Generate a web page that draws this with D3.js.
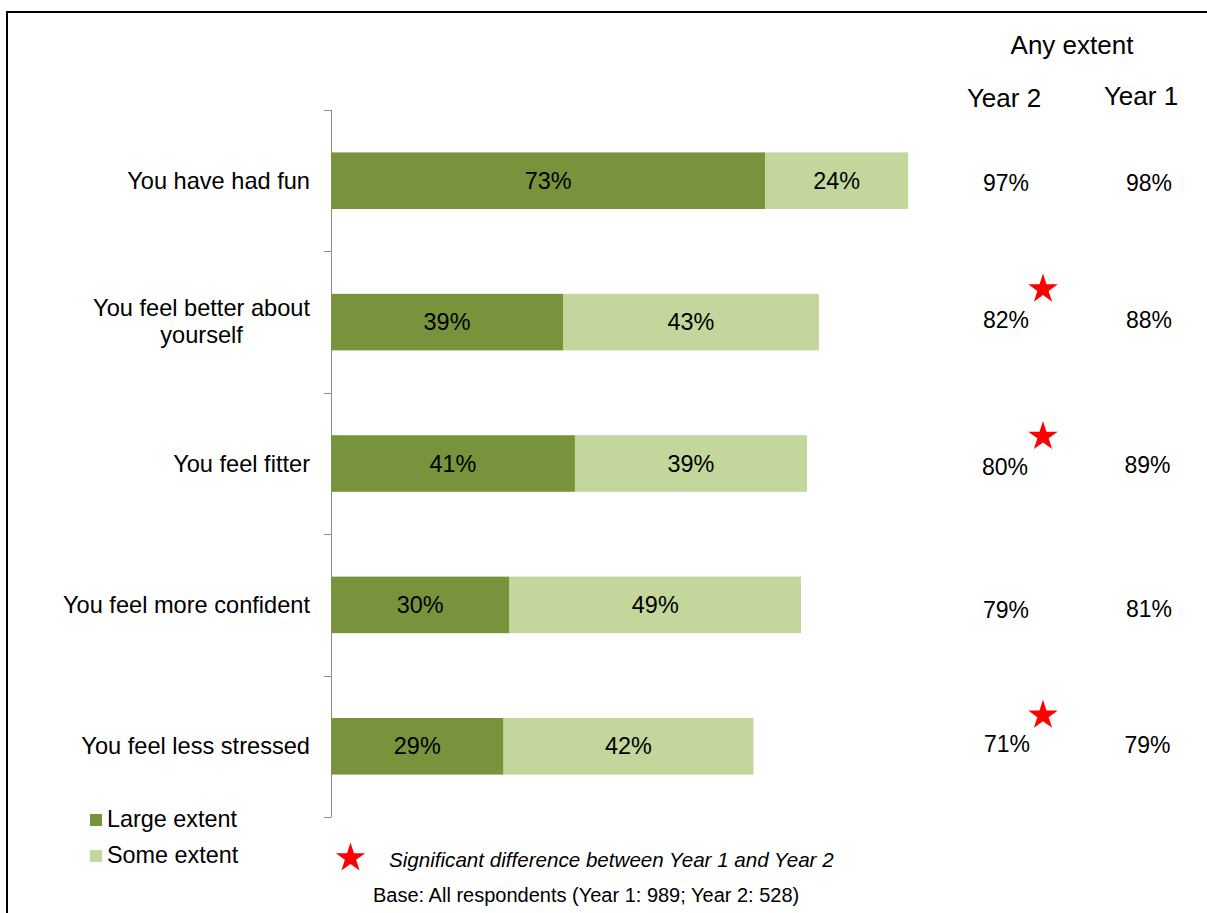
<!DOCTYPE html>
<html><head><meta charset="utf-8">
<script src="https://cdn.jsdelivr.net/npm/d3@7"></script>
<style>body{margin:0;background:#fff}svg{display:block;font-family:Arial,"Liberation Sans",sans-serif}</style>
</head><body>
<script>
const categories = [["You have had fun"],["You feel better about","yourself"],["You feel fitter"],["You feel more confident"],["You feel less stressed"]];
const largeExtent = [73,39,41,30,29];
const someExtent = [24,43,39,49,42];
const year2 = [97,82,80,79,71];
const year1 = [98,88,89,81,79];
const significant = [false,true,true,false,true];
const seriesNames = ["Large extent","Some extent"];
const colors = ["#77933C","#C3D69B"];

const W=1207,H=913;
const svg=d3.select("body").append("svg").attr("width",W).attr("height",H);
svg.append("rect").attr("x",7).attr("y",12).attr("width",W+10).attr("height",H+10).attr("fill","none").attr("stroke","#000").attr("stroke-width",2);

const keys=categories.map((c,i)=>i);
const y=d3.scaleBand().domain(keys).range([110,817]).paddingInner(0.6).paddingOuter(0.3);
const yAx=d3.scaleBand().domain(keys).range([110,817]);
const x=d3.scaleLinear().domain([0,100]).range([331,926]);
const cy=i=>y(i)+y.bandwidth()/2;
const LF=23.6;

// axis line + ticks
const axisG=svg.append("g");
axisG.append("line").attr("x1",331.5).attr("x2",331.5).attr("y1",110).attr("y2",817).attr("stroke","#8c8c8c").attr("stroke-width",1);
const tickYs=keys.map(k=>yAx(k)).concat([817]);
axisG.selectAll(".tk").data(tickYs).join("line").attr("x1",324).attr("x2",331.5).attr("y1",d=>Math.round(d)+0.5).attr("y2",d=>Math.round(d)+0.5).attr("stroke","#8c8c8c");

const stack=d3.stack().keys([0,1]).value((d,k)=>k===0?largeExtent[d]:someExtent[d])(keys);
stack.forEach((s,si)=>{
  const g=svg.append("g");
  g.selectAll("rect").data(s).join("rect")
    .attr("x",d=>x(d[0])).attr("width",d=>x(d[1])-x(d[0]))
    .attr("y",(d,i)=>y(i)).attr("height",y.bandwidth()).attr("fill",colors[si]);
  g.selectAll("text").data(s).join("text")
    .attr("x",d=>(x(d[0])+x(d[1]))/2).attr("y",(d,i)=>cy(i)+8)
    .attr("text-anchor","middle").attr("font-size",23.4).attr("fill","#000")
    .text(d=>(d[1]-d[0])+"%");
});

// category labels
categories.forEach((lines,i)=>{
  if(lines.length===1){
    svg.append("text").attr("font-size",LF).attr("x",310).attr("y",cy(i)+8).attr("text-anchor","end").text(lines[0]);
  } else {
    const tmp=svg.append("text").attr("font-size",LF).text(lines[0]);
    const w=tmp.node().getComputedTextLength(); tmp.remove();
    const cx=310-w/2;
    lines.forEach((l,j)=>{
      svg.append("text").attr("font-size",LF).attr("text-anchor","middle").attr("x",cx)
        .attr("y",cy(i)-6+j*27).text(l);
    });
  }
});

// right columns
svg.append("text").attr("x",1072).attr("y",54).attr("text-anchor","middle").attr("font-size",26).text("Any extent");
svg.append("text").attr("x",1004).attr("y",107).attr("text-anchor","middle").attr("font-size",26).text("Year 2");
svg.append("text").attr("x",1141).attr("y",105).attr("text-anchor","middle").attr("font-size",26).text("Year 1");
const y2Base=[10,6,11.5,13,6], y1Base=[10,6,9,12,7];
const y2X=[1006,1006,1005,1006,1007], y1X=[1149,1149,1147.5,1149,1147.5];
svg.selectAll(".y2").data(year2).join("text").attr("x",(d,i)=>y2X[i]).attr("y",(d,i)=>cy(i)+y2Base[i])
  .attr("text-anchor","middle").attr("font-size",23).text(d=>d+"%");
svg.selectAll(".y1").data(year1).join("text").attr("x",(d,i)=>y1X[i]).attr("y",(d,i)=>cy(i)+y1Base[i])
  .attr("text-anchor","middle").attr("font-size",23).text(d=>d+"%");
const star=d3.symbol().type(d3.symbolStar).size(270);
const starOff=[0,-33,-27,0,-31];
svg.selectAll(".st").data(keys.filter(k=>significant[k])).join("path")
  .attr("d",star).attr("fill","#FF0000")
  .attr("transform",k=>`translate(1043,${cy(k)+starOff[k]})`);

// legend
seriesNames.forEach((n,i)=>{
  svg.append("rect").attr("x",90).attr("y",814+i*36).attr("width",12).attr("height",12).attr("fill",colors[i]);
  svg.append("text").attr("x",107).attr("y",827+i*35.5).attr("font-size",23.4).text(n);
});
svg.append("path").attr("d",star).attr("fill","#FF0000").attr("transform","translate(350.5,858)");
svg.append("text").attr("x",389).attr("y",867).attr("font-size",20.6).attr("font-style","italic").text("Significant difference between Year 1 and Year 2");
svg.append("text").attr("x",373).attr("y",902).attr("font-size",20).text("Base: All respondents (Year 1: 989; Year 2: 528)");
</script>
</body></html>
